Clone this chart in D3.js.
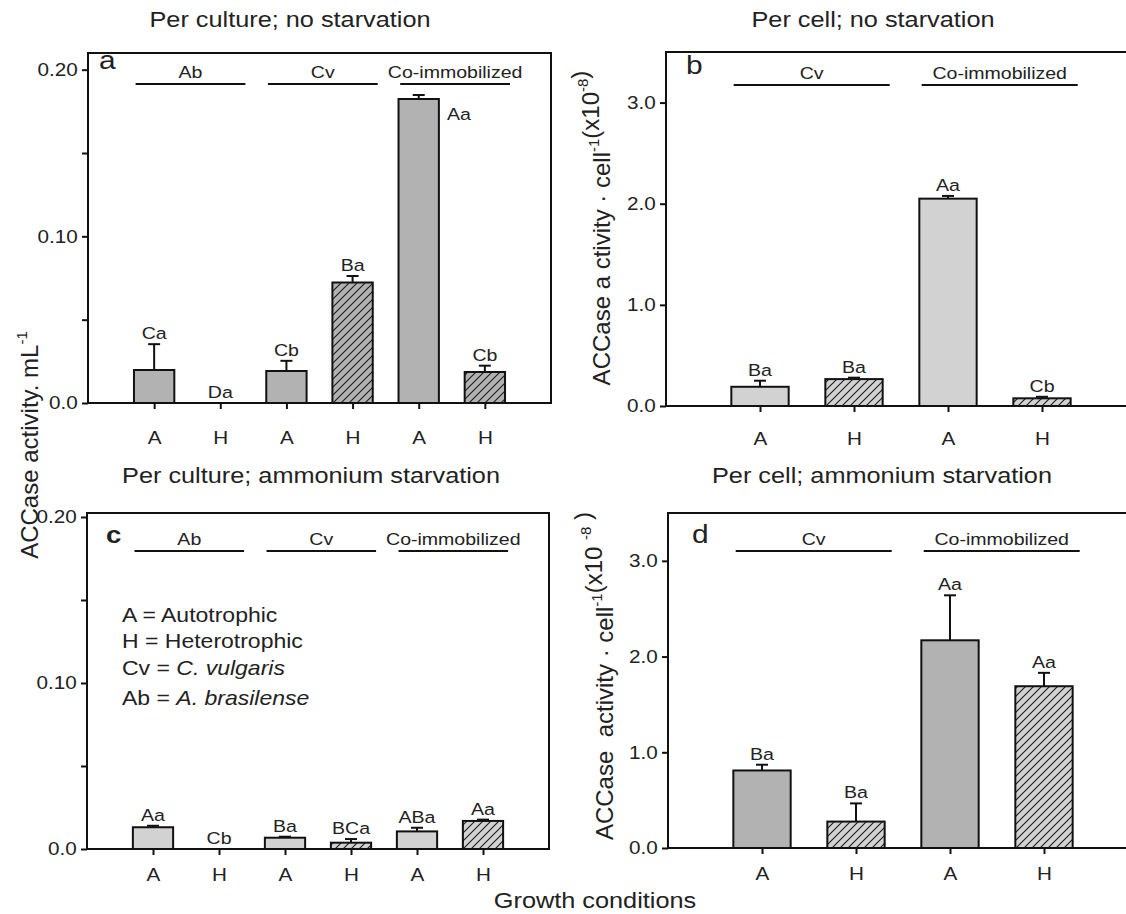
<!DOCTYPE html>
<html>
<head>
<meta charset="utf-8">
<script src="https://cdn.jsdelivr.net/npm/d3@7/dist/d3.min.js"></script>
<style>
body { margin: 0; background: #fff; }
svg text { font-family: "Liberation Sans", Arial, Helvetica, sans-serif; fill: #222; white-space: pre; }
</style>
</head>
<body>
<svg id="svg"></svg>
<script>
// data
var condsCulture = ["A", "H", "A", "H", "A", "H"];
var condsCell = ["A", "H", "A", "H"];
var groupsCulture = ["Ab", "Cv", "Co-immobilized"];
var groupsCell = ["Cv", "Co-immobilized"];

var cultureNoStarv = [0.0198, 0, 0.0192, 0.0723, 0.1824, 0.0186];
var cultureNoStarvErr = [0.0155, 0, 0.0061, 0.0039, 0.0024, 0.0038];
var cultureNoStarvSig = ["Ca", "Da", "Cb", "Ba", "Aa", "Cb"];

var cellNoStarv = [0.19, 0.266, 2.05, 0.076];
var cellNoStarvErr = [0.06, 0.014, 0.027, 0.015];
var cellNoStarvSig = ["Ba", "Ba", "Aa", "Cb"];

var cultureStarv = [0.0131, 0, 0.0068, 0.0038, 0.0106, 0.0169];
var cultureStarvErr = [0.0009, 0, 0.0006, 0.0022, 0.0022, 0.0008];
var cultureStarvSig = ["Aa", "Cb", "Ba", "BCa", "ABa", "Aa"];

var cellStarv = [0.81, 0.276, 2.17, 1.69];
var cellStarvErr = [0.06, 0.19, 0.47, 0.14];
var cellStarvSig = ["Ba", "Ba", "Aa", "Aa"];

var cultureTicks = [0, 0.1, 0.2];
var cultureMinor = [0.05, 0.15];
var cellTicks = [0, 1, 2, 3];

var W = 1126, H = 914;
var SX = 1.15;   // the figure's lettering is a bit wide
var DARK = "#b2b2b2", LIGHT = "#d2d2d2";

var svg = d3.select("#svg").attr("width", W).attr("height", H);

// hatch fills
var defs = svg.append("defs");
[["hatchDark", DARK], ["hatchLight", LIGHT]].forEach(function(p) {
    var pat = defs.append("pattern")
        .attr("id", p[0])
        .attr("patternUnits", "userSpaceOnUse")
        .attr("width", 8).attr("height", 8);
    pat.append("rect").attr("width", 8).attr("height", 8).attr("fill", p[1]);
    pat.append("path")
        .attr("d", "M-2,2 L2,-2 M0,8 L8,0 M6,10 L10,6")
        .attr("stroke", "#222").attr("stroke-width", 1.2);
});

function label(g, x, y, s, size, anchor) {
    return g.append("text")
        .attr("transform", "translate(" + x + "," + y + ") scale(" + SX + ",1)")
        .attr("text-anchor", anchor || "middle")
        .style("font-size", size + "px")
        .text(s);
}

function drawPanel(p)
{
    var n = p.values.length;
    var x = d3.scaleLinear().domain([0, n + 1]).range([p.left, p.right]);
    var y = d3.scaleLinear().domain([0, p.yMax]).range([p.bottom, p.top]);
    var step = x(1) - x(0);
    var bw = step * 0.61;
    var g = svg.append("g");

    // y axis
    var ya = g.append("g").attr("transform", "translate(" + p.left + ",0)")
        .call(d3.axisLeft(y).tickValues(p.ticks).tickFormat(p.fmt).tickSize(6).tickPadding(3));
    if (p.minor) {
        g.append("g").attr("transform", "translate(" + p.left + ",0)")
            .call(d3.axisLeft(y).tickValues(p.minor).tickFormat("").tickSize(6));
    }
    // x axis
    var xa = g.append("g").attr("transform", "translate(0," + p.bottom + ")")
        .call(d3.axisBottom(x).tickValues(d3.range(1, n + 1))
            .tickFormat(function(d) { return p.conds[d - 1]; })
            .tickSize(6).tickPadding(p.xPad));
    g.selectAll(".domain").remove();
    g.selectAll(".tick line").attr("stroke", "#111").attr("stroke-width", 2);
    ya.selectAll("text").style("font-size", "18px").attr("transform", "scale(" + SX + ",1)");
    xa.selectAll("text").style("font-size", "18px").attr("transform", "scale(" + SX + ",1)");

    // frame
    g.append("rect")
        .attr("x", p.left).attr("y", p.top)
        .attr("width", p.right - p.left).attr("height", p.bottom - p.top)
        .attr("fill", "none").attr("stroke", "#111").attr("stroke-width", 2);

    // bars
    var idx = d3.range(n);
    g.selectAll(".bar").data(idx).enter().filter(function(i) { return p.values[i] > 0; })
        .append("rect")
        .attr("x", function(i) { return x(i + 1) - bw / 2; })
        .attr("y", function(i) { return y(p.values[i]); })
        .attr("width", bw)
        .attr("height", function(i) { return y(0) - y(p.values[i]); })
        .attr("fill", function(i) { return i % 2 ? p.hatch : p.solid; })
        .attr("stroke", "#111").attr("stroke-width", 2);

    // error bars
    idx.forEach(function(i) {
        if (!p.err[i]) return;
        var cx = x(i + 1), top = y(p.values[i] + p.err[i]);
        g.append("line").attr("x1", cx).attr("x2", cx)
            .attr("y1", y(p.values[i])).attr("y2", top)
            .attr("stroke", "#111").attr("stroke-width", 2);
        g.append("line").attr("x1", cx - 6).attr("x2", cx + 6)
            .attr("y1", top).attr("y2", top)
            .attr("stroke", "#111").attr("stroke-width", 2);
    });

    // significance letters
    idx.forEach(function(i) {
        var ly = y(p.values[i] + p.err[i]) - 5;
        if (ly < p.groupY + 20) {
            label(g, x(i + 1) + bw / 2 + 8, y(p.values[i]) + 21, p.sig[i], 17, "start");
        } else {
            label(g, x(i + 1), ly, p.sig[i], 17);
        }
    });

    // group lines
    p.groups.forEach(function(name, k) {
        var c = (x(2 * k + 1) + x(2 * k + 2)) / 2 + step * 0.05;
        var half = step * 0.83;
        g.append("line").attr("x1", c - half).attr("x2", c + half)
            .attr("y1", p.groupY).attr("y2", p.groupY)
            .attr("stroke", "#111").attr("stroke-width", 2);
        label(g, c, p.groupY - 6, name, 17);
    });

    // panel letter and title
    label(g, p.left + p.letterDx, p.top + p.letterDy, p.letter, p.letterBold ? 24 : 26, "start")
        .style("font-weight", p.letterBold ? "bold" : "normal");
    label(svg, p.titleX, p.titleY, p.title, 22);
}

drawPanel({
    letter: "a", title: "Per culture; no starvation", titleX: 290, titleY: 27,
    values: cultureNoStarv, err: cultureNoStarvErr, sig: cultureNoStarvSig,
    conds: condsCulture, groups: groupsCulture,
    left: 88, right: 551, top: 53, bottom: 403, yMax: 0.21,
    ticks: cultureTicks, minor: cultureMinor,
    fmt: function(d) { return d === 0 ? "0.0" : d3.format(".2f")(d); },
    solid: DARK, hatch: "url(#hatchDark)", groupY: 84, xPad: 22,
    letterDx: 11, letterDy: 16
});

drawPanel({
    letter: "b", title: "Per cell; no starvation", titleX: 873, titleY: 27,
    values: cellNoStarv, err: cellNoStarvErr, sig: cellNoStarvSig,
    conds: condsCell, groups: groupsCell,
    left: 666, right: 1136, top: 52, bottom: 406, yMax: 3.5,
    ticks: cellTicks, fmt: d3.format(".1f"),
    solid: LIGHT, hatch: "url(#hatchLight)", groupY: 85, xPad: 20,
    letterDx: 20, letterDy: 22
});

drawPanel({
    letter: "c", title: "Per culture; ammonium starvation", titleX: 311, titleY: 483,
    values: cultureStarv, err: cultureStarvErr, sig: cultureStarvSig,
    conds: condsCulture, groups: groupsCulture,
    left: 87, right: 549, top: 513, bottom: 849, yMax: 0.2024,
    ticks: cultureTicks, minor: cultureMinor,
    fmt: function(d) { return d === 0 ? "0.0" : d3.format(".2f")(d); },
    solid: LIGHT, hatch: "url(#hatchLight)", groupY: 551, xPad: 13,
    letterDx: 19, letterDy: 30, letterBold: true
});

drawPanel({
    letter: "d", title: "Per cell; ammonium starvation", titleX: 882, titleY: 483,
    values: cellStarv, err: cellStarvErr, sig: cellStarvSig,
    conds: condsCell, groups: groupsCell,
    left: 668, right: 1138, top: 513, bottom: 848, yMax: 3.5,
    ticks: cellTicks, fmt: d3.format(".1f"),
    solid: DARK, hatch: "url(#hatchLight)", groupY: 551, xPad: 13,
    letterDx: 24, letterDy: 30
});

// legend in panel c
var leg = svg.append("g");
label(leg, 122, 622, "A = Autotrophic", 20, "start");
label(leg, 122, 648, "H = Heterotrophic", 20, "start");
var l3 = label(leg, 122, 675, "Cv = ", 20, "start");
l3.append("tspan").style("font-style", "italic").text("C. vulgaris");
var l4 = label(leg, 122, 705, "Ab = ", 20, "start");
l4.append("tspan").style("font-style", "italic").text("A. brasilense");

// y axis titles
function yTitle(x, y, parts) {
    var t = svg.append("text")
        .attr("transform", "translate(" + x + "," + y + ") rotate(-90)")
        .attr("text-anchor", "middle")
        .style("font-size", "24px");
    parts.forEach(function(p) {
        if (p.sup) {
            t.append("tspan").attr("dy", -11).style("font-size", "15px").text(p.sup);
            t.append("tspan").attr("dy", 11).text("");
        } else {
            t.append("tspan").text(p.t);
        }
    });
}
yTitle(38, 445, [{t: "ACCase activity. mL"}, {sup: "-1"}]);
yTitle(610, 228, [{t: "ACCase a ctivity \u00b7 cell"}, {sup: "-1"}, {t: "(x10"}, {sup: "-8"}, {t: ")"}]);
yTitle(613, 676, [{t: "ACCase  activity \u00b7 cell"}, {sup: "-1"}, {t: "(x10 "}, {sup: "-8"}, {t: " )"}]);

label(svg, 595, 908, "Growth conditions", 22);
</script>
</body>
</html>
